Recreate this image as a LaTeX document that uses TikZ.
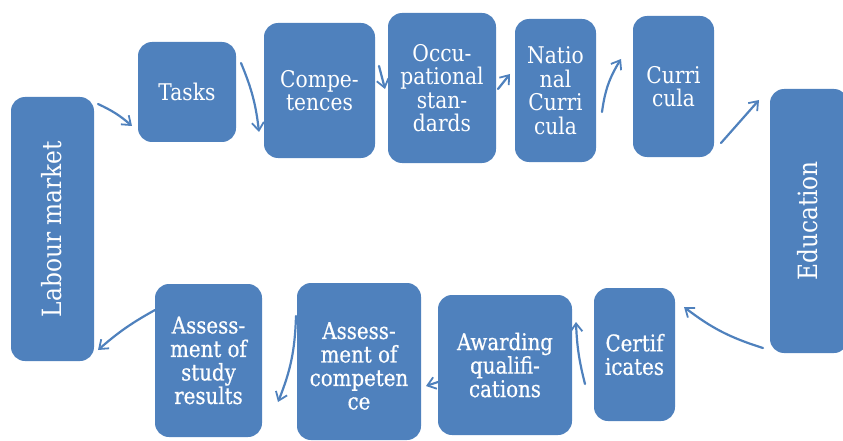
\documentclass[tikz,border=0pt]{standalone}
\usepackage{fontspec}
\setmainfont{DejaVu Serif}
\newfontfamily\boxfont[FakeStretch=0.88]{DejaVu Serif}
\newfontfamily\boxfontb[FakeStretch=0.86,FakeBold=0.6]{DejaVu Serif}
\usetikzlibrary{arrows.meta}
\definecolor{boxblue}{HTML}{4F81BD}
\tikzset{
  box/.style={fill=boxblue, draw=none, rounded corners=14pt, text=white, align=center,
    font=\boxfont\fontsize{23}{23.5}\selectfont, inner sep=0pt},
  boxb/.style={box, font=\boxfontb\fontsize{23}{23.5}\selectfont},
  bigtext/.style={text=white, rotate=90, font=\boxfont\fontsize{26.5}{30}\selectfont},
  conn/.style={draw=boxblue, line width=2.2pt, -{Straight Barb[length=8pt,width=12pt,line width=1.8pt]}, line cap=round}
}
\begin{document}
\begin{tikzpicture}[x=1pt,y=-1pt]
\useasboundingbox (0,0) rectangle (843,441);
% boxes
\node[box, minimum width=83pt, minimum height=264pt] (lab) at (52.5,229) {};
\node[bigtext] (labt) at (52,229) {Labour market};
\node[box, minimum width=98pt, minimum height=100pt] (tasks) at (187,92) {Tasks};
\node[box, minimum width=111pt, minimum height=135pt] (comp) at (319.5,90.5) {Compe-\\tences};
\node[box, minimum width=108pt, minimum height=150pt] (occ) at (442,88) {Occu-\\pational\\stan-\\dards};
\node[box, minimum width=81pt, minimum height=143pt] (nat) at (555.5,90.5) {Natio\\nal\\Curri\\cula};
\node[box, minimum width=81pt, minimum height=141pt] (cur) at (673.5,86.5) {Curri\\cula};
\node[box, minimum width=78pt, minimum height=264pt] (edu) at (809,221) {};
\node[bigtext] (edut) at (808,221) {Education};
\node[boxb, minimum width=81pt, minimum height=133pt] (cert) at (634.5,354.5) {Certif\\icates};
\node[boxb, minimum width=134pt, minimum height=140pt] (awd) at (505,365) {Awarding\\qualifi-\\cations};
\node[boxb, minimum width=124pt, minimum height=157pt] (asc) at (359,361.5) {};
\node[boxb, fill=none] (asct) at (359,366) {Assess-\\ment of\\competen\\ce};
\node[boxb, minimum width=107pt, minimum height=153pt] (asr) at (208.5,360.5) {Assess-\\ment of\\study\\results};
% connector end points
\coordinate (a1s) at (98,104);   \coordinate (a1e) at (132,126);
\coordinate (a2s) at (241,63);   \coordinate (a2e) at (259,132);
\coordinate (a3s) at (379,66);   \coordinate (a3e) at (385,89);
\coordinate (a4s) at (498,89);   \coordinate (a4e) at (510,74);
\coordinate (a5s) at (602,112);  \coordinate (a5e) at (621,59);
\coordinate (a6s) at (721,143);  \coordinate (a6e) at (759,100);
\coordinate (a7s) at (763,348);  \coordinate (a7e) at (684,307);
\coordinate (a8s) at (585,384);  \coordinate (a8e) at (576,322);
\coordinate (a9s) at (438,382);  \coordinate (a9e) at (426,386);
\coordinate (a10s) at (296,316); \coordinate (a10e) at (278,402);
\coordinate (a11s) at (155,310); \coordinate (a11e) at (98,350);
% connectors
\draw[conn] (a1s) to[bend left=8] (a1e);
\draw[conn] (a2s) to[bend left=8] (a2e);
\draw[conn] (a3s) to (a3e);
\draw[conn] (a4s) to (a4e);
\draw[conn] (a5s) to[bend left=12] (a5e);
\draw[conn] (a6s) to (a6e);
\draw[conn] (a7s) to[bend left=10] (a7e);
\draw[conn] (a8s) to[bend left=6] (a8e);
\draw[conn] (a9s) to (a9e);
\draw[conn] (a10s) to[bend left=10] (a10e);
\draw[conn] (a11s) to[bend right=6] (a11e);
\end{tikzpicture}
\end{document}
